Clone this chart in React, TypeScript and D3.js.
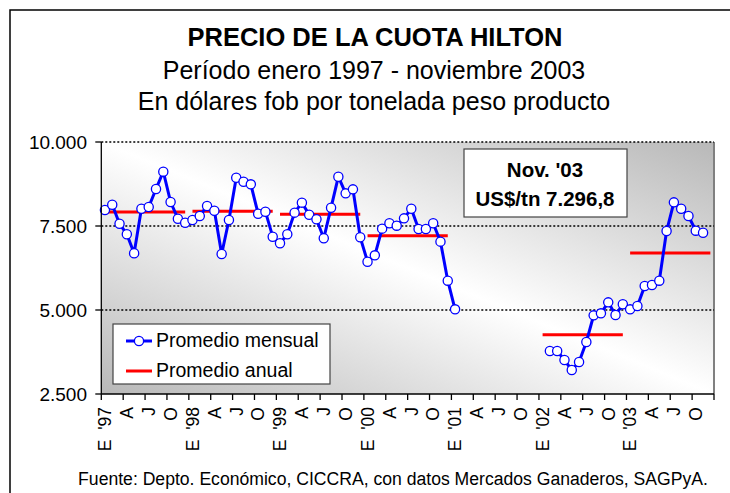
import React from 'react';
import * as d3 from 'd3';

// Precio de la cuota Hilton, US$ fob por tonelada peso producto
const years = ['97', '98', '99', '00', '01', '02', '03'];
const monthLetters = ['E', 'A', 'J', 'O']; // label every 3 months

// monthly average, null = sin dato
const mensual1997 = [7976, 8134, 7568, 7253, 6687, 8015, 8065, 8601, 9117, 8214, 7717, 7598];
const mensual1998 = [7679, 7798, 8095, 7955, 6667, 7679, 8938, 8819, 8740, 7866, 7926, 7182];
const mensual1999 = [6985, 7253, 7897, 8195, 7837, 7699, 7134, 8045, 8967, 8472, 8591, 7163];
const mensual2000 = [6438, 6627, 7421, 7580, 7510, 7728, 8015, 7411, 7411, 7580, 7034, 5873];
const mensual2001 = [5020, null, null, null, null, null, null, null, null, null, null, null];
const mensual2002 = [null, 3780, 3780, 3512, 3214, 3452, 4048, 4841, 4901, 5228, 4851, 5169];
const mensual2003 = [5020, 5119, 5714, 5744, 5873, 7351, 8204, 8015, 7798, 7361, 7297, null];

// yearly average (null for 2001, only one month)
const anual = [7917, 7937, 7848, 7212, null, 4266, 6696];

const yTicks = [2500, 5000, 7500, 10000];
const gridTicks = [5000, 7500, 10000];

const W = 730;
const H = 493;
const FONT = '"Liberation Sans", Arial, sans-serif';

const mensual: (number | null)[] = [
  ...mensual1997, ...mensual1998, ...mensual1999, ...mensual2000,
  ...mensual2001, ...mensual2002, ...mensual2003,
];
const idx = d3.range(mensual.length);

const x = d3.scaleBand<number>().domain(idx).range([101.3, 714]);
const y = d3.scaleLinear().domain([2500, 10000]).range([394, 142]);
const cx = (i: number) => (x(i) || 0) + x.bandwidth() / 2;

const fmtTick = d3
  .formatLocale({ decimal: ',', thousands: '.', grouping: [3], currency: ['$', ''] })
  .format(',.0f');

export default function App() {
  const line = d3
    .line<number | null>()
    .defined((d) => d != null)
    .x((_, i) => cx(i))
    .y((d) => y(d as number));

  const pts = idx.filter((i) => mensual[i] != null);
  const [x0, x1] = x.range();
  const [yb, yt] = y.range();

  return (
    <div style={{ position: 'absolute', left: 0, top: 0 }}>
      <svg width={W} height={H} style={{ display: 'block', fontFamily: FONT }}>
        <defs>
          <linearGradient id="bg" x1="0" y1="1" x2="1" y2="0">
            <stop offset="0" stopColor="#b8b8b8" />
            <stop offset="0.5" stopColor="#ffffff" />
            <stop offset="1" stopColor="#b8b8b8" />
          </linearGradient>
        </defs>
        <rect x={0} y={0} width={W} height={H} fill="#fff" />
        {/* outer frame, cut on right and bottom */}
        <rect x={10} y={10} width={W + 20} height={H + 20} fill="none" stroke="#000" strokeWidth={1.5} />

        <text x={375} y={46} textAnchor="middle" fontSize={25.5} fontWeight="bold">PRECIO DE LA CUOTA HILTON</text>
        <text x={374} y={79} textAnchor="middle" fontSize={25}>Período enero 1997 - noviembre 2003</text>
        <text x={374} y={110} textAnchor="middle" fontSize={25}>En dólares fob por tonelada peso producto</text>

        {/* plot area */}
        <rect x={x0} y={yt} width={x1 - x0} height={yb - yt} fill="url(#bg)" />
        <line x1={x1} x2={x1} y1={yt} y2={yb} stroke="#808080" strokeWidth={2} />
        {gridTicks.map((t) => (
          <line key={t} x1={x0} x2={x1} y1={y(t)} y2={y(t)} stroke="#000" strokeWidth={1.3} strokeDasharray="2 2" />
        ))}

        {/* annual averages */}
        {anual.map((v, k) =>
          v == null ? null : (
            <line key={k} x1={cx(k * 12)} x2={cx(k * 12 + 11)} y1={y(v)} y2={y(v)} stroke="#ff0000" strokeWidth={3} />
          )
        )}

        {/* monthly */}
        <path d={line(mensual) || ''} fill="none" stroke="#0000ff" strokeWidth={3} strokeLinejoin="round" />
        {pts.map((i) => (
          <circle key={i} cx={cx(i)} cy={y(mensual[i] as number)} r={4.6} fill="#fff" stroke="#0000ff" strokeWidth={1.3} />
        ))}

        {/* axes */}
        <line x1={x0} x2={x0} y1={yt} y2={yb} stroke="#000" strokeWidth={1.3} />
        <line x1={x0} x2={x1} y1={yb} y2={yb} stroke="#000" strokeWidth={1.3} />
        {yTicks.map((t) => (
          <g key={t}>
            <line x1={x0 - 6} x2={x0} y1={y(t)} y2={y(t)} stroke="#000" strokeWidth={1.3} />
            <text x={87} y={y(t)} dy="0.35em" textAnchor="end" fontSize={19}>{fmtTick(t)}</text>
          </g>
        ))}
        {d3.range(0, mensual.length + 1, 3).map((i) => {
          const px = i < mensual.length ? x(i) || 0 : x1;
          return <line key={i} x1={px} x2={px} y1={yb} y2={yb + 6} stroke="#000" strokeWidth={1.3} />;
        })}
        {d3.range(0, mensual.length, 3).map((i) => {
          const q = (i / 3) % 4;
          const label = q === 0 ? `E  '${years[i / 12]}` : monthLetters[q];
          return (
            <text
              key={i}
              transform={`translate(${cx(i)},407) rotate(-90)`}
              dy="0.36em"
              textAnchor="end"
              fontSize={17.5}
              style={{ whiteSpace: 'pre' }}
            >
              {label}
            </text>
          );
        })}

        {/* legend */}
        <rect x={113} y={324} width={217} height={60} fill="#fff" stroke="#444" strokeWidth={1.2} />
        <line x1={126} x2={152} y1={341} y2={341} stroke="#0000ff" strokeWidth={3} />
        <circle cx={139} cy={341} r={4.6} fill="#fff" stroke="#0000ff" strokeWidth={1.3} />
        <text x={156} y={347} fontSize={19.5}>Promedio mensual</text>
        <line x1={126} x2={152} y1={371} y2={371} stroke="#ff0000" strokeWidth={3} />
        <text x={156} y={377} fontSize={19.5}>Promedio anual</text>

        {/* last value box */}
        <rect x={464} y={149} width={163} height={68} fill="#fff" stroke="#444" strokeWidth={1.2} />
        <text x={545} y={177} textAnchor="middle" fontSize={20.5} fontWeight="bold">Nov. '03</text>
        <text x={545} y={206} textAnchor="middle" fontSize={20.5} fontWeight="bold">US$/tn 7.296,8</text>

        <text x={393} y={485} textAnchor="middle" fontSize={17.6}>
          Fuente: Depto. Económico, CICCRA, con datos Mercados Ganaderos, SAGPyA.
        </text>
      </svg>
    </div>
  );
}
